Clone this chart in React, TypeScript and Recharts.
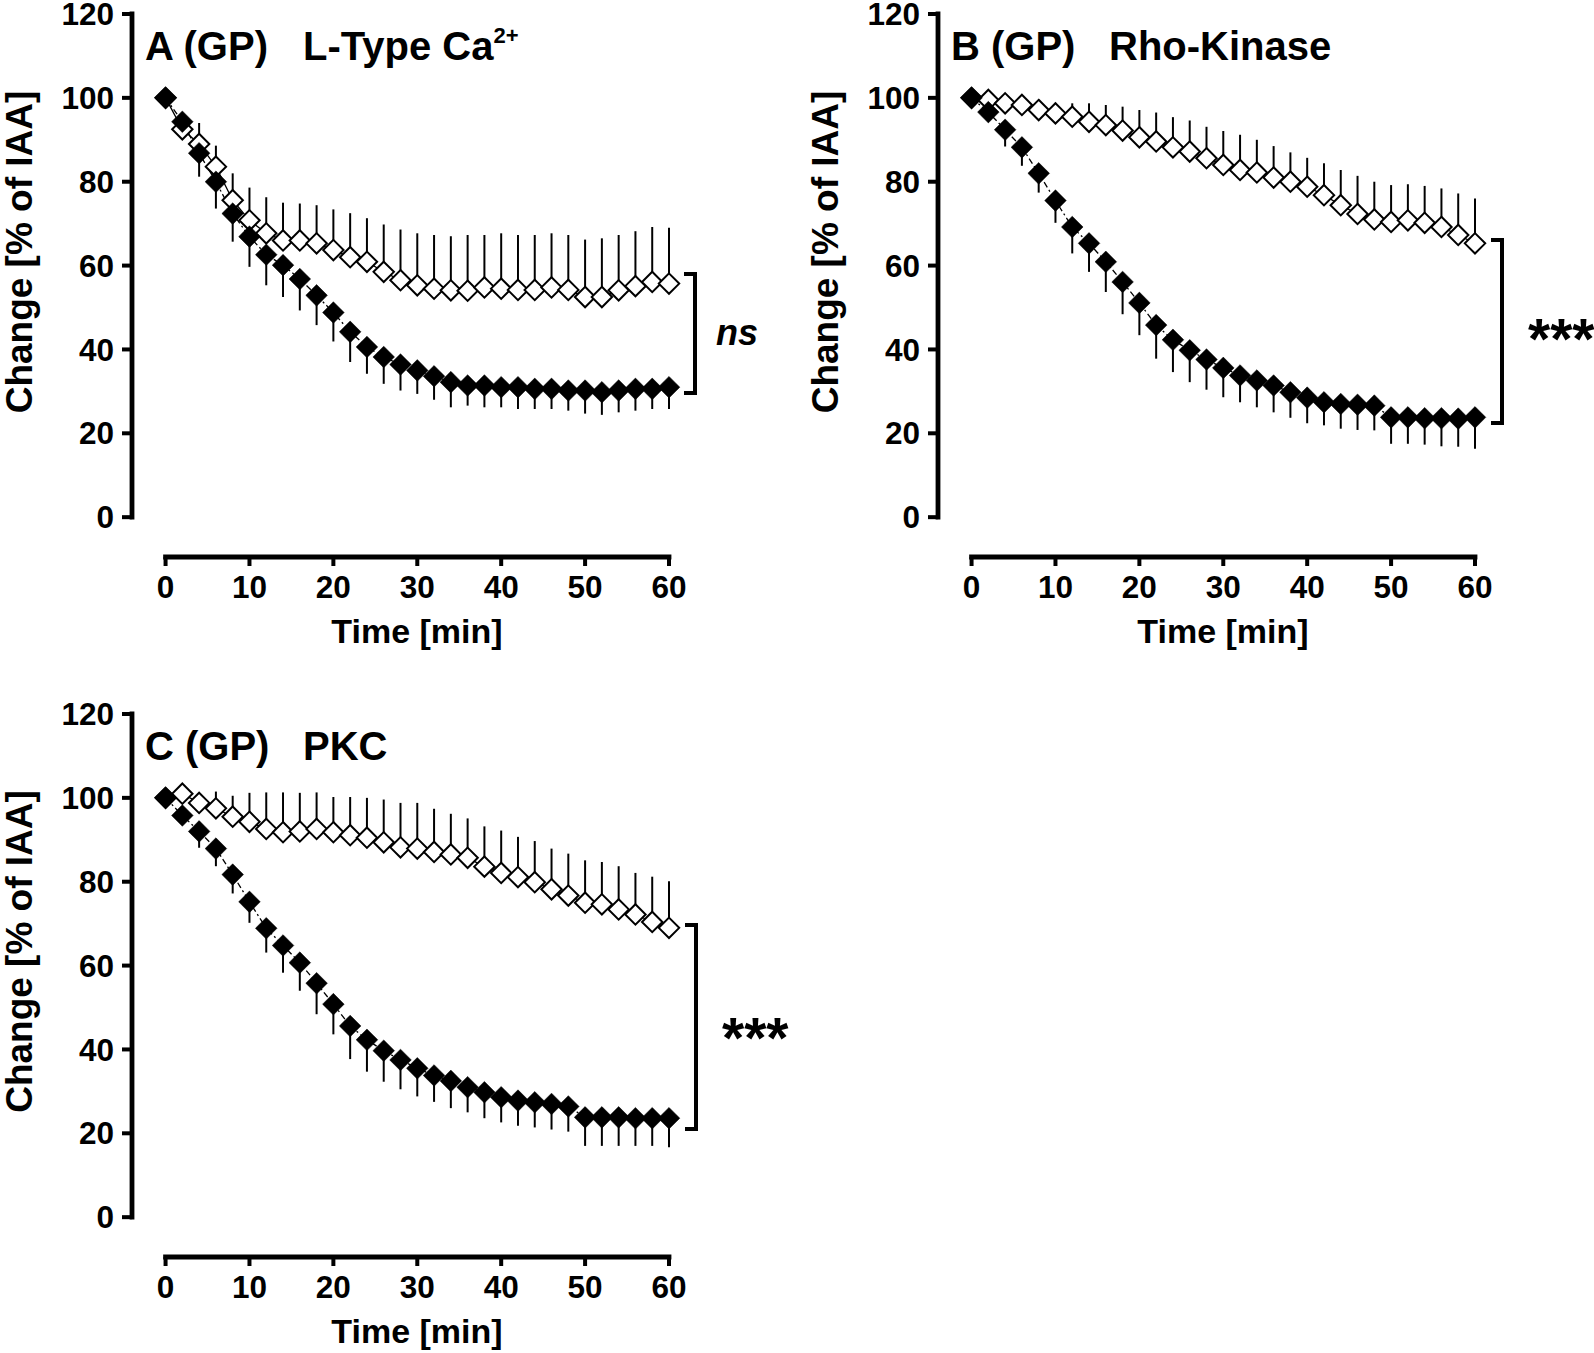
import React from 'react';
import { ComposedChart, Line, XAxis, YAxis, ErrorBar, ReferenceLine } from 'recharts';

// ---------- data ----------
const TIME = [0, 2, 4, 6, 8, 10, 12, 14, 16, 18, 20, 22, 24, 26, 28, 30, 32, 34, 36, 38, 40, 42, 44, 46, 48, 50, 52, 54, 56, 58, 60];
const X_TICKS = [0, 10, 20, 30, 40, 50, 60];
const Y_TICKS = [0, 20, 40, 60, 80, 100, 120];

// Panel A (L-Type Ca2+)
const A_FILLED = [100, 94.3, 86.8, 80.0, 72.4, 66.9, 62.6, 60.1, 56.8, 52.9, 48.8, 44.2, 40.6, 38.2, 36.4, 35.0, 33.6, 32.2, 31.4, 31.4, 31.0, 31.0, 30.6, 30.6, 30.2, 30.2, 29.8, 30.2, 30.6, 30.6, 31.0];
const A_FILLED_ERR = [0, 1.5, 5.6, 6.4, 6.7, 7.2, 7.3, 7.6, 7.5, 7.1, 6.9, 7.2, 6.4, 6.4, 6.2, 5.6, 5.6, 6.0, 4.8, 5.2, 4.8, 5.2, 4.8, 4.8, 4.8, 5.5, 5.4, 5.2, 5.2, 4.8, 5.2];
const A_OPEN = [100, 92.5, 89, 83.6, 75.6, 70.8, 67.7, 66, 66, 65.3, 63.7, 62, 60.9, 58.5, 56.5, 55.3, 54.5, 54.1, 54, 54.8, 54.5, 54.2, 54.2, 54.8, 54.2, 52.5, 52.5, 54.1, 55.1, 56.1, 55.7];
const A_OPEN_ERR = [0, 2, 5, 5, 6.4, 7.8, 8.6, 9, 8.8, 9.1, 9.7, 10.5, 10.4, 11.3, 12.1, 12.4, 12.8, 12.9, 13.3, 12.5, 13.2, 13.1, 13.1, 12.9, 13.1, 13.7, 14, 13.2, 13.1, 13.1, 13.3];

// Panel B (Rho-Kinase)
const B_FILLED = [100, 96.6, 92.4, 88.2, 82, 75.5, 69.2, 65.3, 60.9, 56.1, 51.1, 45.8, 42.3, 39.8, 37.6, 35.6, 33.8, 32.6, 31.4, 29.8, 28.5, 27.4, 27.0, 26.8, 26.6, 23.8, 23.8, 23.6, 23.6, 23.5, 23.8];
const B_FILLED_ERR = [0, 2, 4, 4.4, 4.6, 5.3, 6.3, 6.8, 7.2, 7.7, 7.7, 8, 7.7, 7.6, 7.2, 7, 6.4, 6.4, 6.4, 6.1, 6.1, 5.5, 5.9, 6, 5.9, 6.3, 6.3, 6.3, 6.7, 6.7, 7.5];
const B_OPEN = [100, 99.5, 98.7, 98.3, 97.1, 96.3, 95.5, 94.3, 93.5, 92.2, 90.6, 89.6, 88.2, 87.2, 85.6, 84, 82.8, 82.2, 81, 80, 78.8, 76.8, 74.4, 72.3, 71, 70.4, 70.8, 70.2, 69.2, 67.3, 65.3];
const B_OPEN_ERR = [0, 0.5, 1, 1.5, 2, 2.5, 3.2, 4.4, 4.8, 5.7, 6.5, 6.9, 7.2, 7.4, 7.5, 8.1, 8.4, 7.8, 7.5, 7, 6.9, 7.6, 8.4, 9.1, 9, 8.8, 8.6, 8.8, 9.2, 9.9, 10.7];

// Panel C (PKC)
const C_FILLED = [100, 95.8, 92, 87.9, 81.7, 75.2, 68.9, 64.8, 60.7, 55.8, 50.8, 45.6, 42.3, 39.7, 37.5, 35.5, 33.8, 32.5, 31, 29.8, 28.6, 27.8, 27.4, 27, 26.4, 23.8, 23.8, 23.8, 23.6, 23.6, 23.6];
const C_FILLED_ERR = [0, 2, 3.9, 4.2, 4.5, 5, 5.8, 6.5, 6.7, 7.4, 7.2, 7.9, 7.6, 7.4, 7, 6.7, 6.3, 6.5, 6, 6.2, 6, 6, 6, 6.1, 6, 6.8, 6.8, 6.8, 6.6, 6.6, 6.9];
const C_OPEN = [100, 101, 98.8, 97.5, 95.5, 94.3, 92.6, 91.8, 92, 92.6, 91.8, 91.1, 90.5, 89.4, 88.2, 87.9, 87.1, 86.5, 85.7, 83.6, 82.1, 81.1, 79.9, 78.2, 76.7, 75, 74.6, 73.4, 72.2, 70.4, 69];
const C_OPEN_ERR = [0, 1, 2, 4, 5, 6.9, 8.7, 9.5, 9.2, 8.7, 8.4, 9.1, 9.5, 10.2, 10.6, 10.9, 10.3, 9.7, 9.4, 9.6, 10.1, 9.6, 9.8, 9.7, 10, 10.1, 10.1, 10.3, 9.9, 10.8, 11.1];

// ---------- layout ----------
const FONT = '"Liberation Sans", Arial, Helvetica, sans-serif';
const X_MIN = -4;
const Y_MIN = -9.5;
const PAD = 14; // extra room above the plot so the top tick label is not clipped
const CHART_W = 760;
const CHART_H = 680 + PAD;
const PLOT_LEFT = 132;
const PLOT_RIGHT = 669;
const PLOT_TOP = 14 + PAD;
const PLOT_BOTTOM = 557 + PAD;

function buildRows(filled: number[], filledErr: number[], open: number[], openErr: number[]) {
  return TIME.map((t, i) => ({
    t,
    filled: filled[i],
    filledErr: [filledErr[i], 0],
    open: open[i],
    openErr: [0, openErr[i]],
  }));
}

function Diamond({ cx, cy, solid }: { cx?: number; cy?: number; solid: boolean }) {
  if (cx == null || cy == null) return null;
  const r = solid ? 10.8 : 10.2;
  return (
    <path
      d={`M${cx},${cy - r}L${cx + r},${cy}L${cx},${cy + r}L${cx - r},${cy}Z`}
      fill={solid ? '#000' : '#fff'}
      stroke="#000"
      strokeWidth={solid ? 0.5 : 2}
      strokeLinejoin="miter"
    />
  );
}

const tickStyle = { fill: '#000', fontSize: 31.5, fontWeight: 700, fontFamily: FONT };

function Panel({ left, top, rows }: { left: number; top: number; rows: any[] }) {
  return (
    <div style={{ position: 'absolute', left, top: top - PAD, width: CHART_W, height: CHART_H }}>
      <ComposedChart
        width={CHART_W}
        height={CHART_H}
        data={rows}
        margin={{ top: PLOT_TOP, right: CHART_W - PLOT_RIGHT, bottom: 0, left: 0 }}
      >
        <XAxis
          dataKey="t"
          type="number"
          domain={[X_MIN, 60]}
          ticks={X_TICKS}
          interval={0}
          axisLine={false}
          tickLine={{ stroke: '#000', strokeWidth: 4 }}
          tickSize={9}
          tickMargin={10}
          height={CHART_H - PLOT_BOTTOM}
          tick={tickStyle}
        />
        <YAxis
          type="number"
          domain={[Y_MIN, 120]}
          ticks={Y_TICKS}
          interval={0}
          axisLine={false}
          tickLine={{ stroke: '#000', strokeWidth: 4 }}
          tickSize={10}
          tickMargin={8}
          width={PLOT_LEFT}
          tick={tickStyle}
        />
        <ReferenceLine
          segment={[{ x: 0, y: Y_MIN }, { x: 60, y: Y_MIN }]}
          stroke="#000"
          strokeWidth={4.8}
          strokeLinecap="square"
        />
        <ReferenceLine
          segment={[{ x: X_MIN, y: 0 }, { x: X_MIN, y: 120 }]}
          stroke="#000"
          strokeWidth={4.8}
          strokeLinecap="square"
        />
        <Line
          dataKey="open"
          type="linear"
          stroke="#000"
          strokeWidth={1.3}
          isAnimationActive={false}
          activeDot={false}
          dot={(p: any) => <Diamond key={`o-${p.index}`} cx={p.cx} cy={p.cy} solid={false} />}
        >
          <ErrorBar dataKey="openErr" direction="y" width={0} stroke="#000" strokeWidth={2} />
        </Line>
        <Line
          dataKey="filled"
          type="linear"
          stroke="#000"
          strokeWidth={1.3}
          strokeDasharray="6 3 2 3"
          isAnimationActive={false}
          activeDot={false}
          dot={(p: any) => <Diamond key={`f-${p.index}`} cx={p.cx} cy={p.cy} solid />}
        >
          <ErrorBar dataKey="filledErr" direction="y" width={0} stroke="#000" strokeWidth={2} />
        </Line>
      </ComposedChart>
    </div>
  );
}

const txt = { fontFamily: FONT, fontWeight: 700, fill: '#000' } as const;

function Annotations() {
  const bOff = 806;
  const cOff = 699.5;
  return (
    <svg width={1594} height={1353} style={{ position: 'absolute', left: 0, top: 0, pointerEvents: 'none' }}>
      {/* Panel A */}
      <text x={145} y={60} fontSize={40} {...txt}>A (GP)</text>
      <text x={303} y={60} fontSize={40} {...txt}>
        L-Type Ca<tspan dy={-17} fontSize={22}>2+</tspan>
      </text>
      <text transform="translate(32,252) rotate(-90)" textAnchor="middle" fontSize={37} {...txt}>Change [% of IAA]</text>
      <text x={417} y={643} textAnchor="middle" fontSize={34} {...txt}>Time [min]</text>
      <path d="M684,274 H695 V393 H684" fill="none" stroke="#000" strokeWidth={4} />
      <text x={737} y={345} textAnchor="middle" fontSize={36} fontStyle="italic" {...txt}>ns</text>

      {/* Panel B */}
      <text x={145 + bOff} y={60} fontSize={40} {...txt}>B (GP)</text>
      <text x={303 + bOff} y={60} fontSize={40} {...txt}>Rho-Kinase</text>
      <text transform={`translate(${32 + bOff},252) rotate(-90)`} textAnchor="middle" fontSize={37} {...txt}>Change [% of IAA]</text>
      <text x={417 + bOff} y={643} textAnchor="middle" fontSize={34} {...txt}>Time [min]</text>
      <path d="M1491,240 H1502 V423 H1491" fill="none" stroke="#000" strokeWidth={4} />
      <text x={1528} y={359} fontSize={57} {...txt}>***</text>

      {/* Panel C */}
      <text x={145} y={60 + cOff} fontSize={40} {...txt}>C (GP)</text>
      <text x={303} y={60 + cOff} fontSize={40} {...txt}>PKC</text>
      <text transform={`translate(32,${252 + cOff}) rotate(-90)`} textAnchor="middle" fontSize={37} {...txt}>Change [% of IAA]</text>
      <text x={417} y={643 + cOff} textAnchor="middle" fontSize={34} {...txt}>Time [min]</text>
      <path d="M685,925 H696 V1129 H685" fill="none" stroke="#000" strokeWidth={4} />
      <text x={722} y={1058} fontSize={57} {...txt}>***</text>
    </svg>
  );
}

export default function App() {
  const rowsA = buildRows(A_FILLED, A_FILLED_ERR, A_OPEN, A_OPEN_ERR);
  const rowsB = buildRows(B_FILLED, B_FILLED_ERR, B_OPEN, B_OPEN_ERR);
  const rowsC = buildRows(C_FILLED, C_FILLED_ERR, C_OPEN, C_OPEN_ERR);
  return (
    <div style={{ position: 'absolute', left: 0, top: 0, width: 1594, height: 1353, background: '#fff', overflow: 'hidden' }}>
      <Panel left={0} top={0} rows={rowsA} />
      <Panel left={806} top={0} rows={rowsB} />
      <Panel left={0} top={699.5} rows={rowsC} />
      <Annotations />
    </div>
  );
}
